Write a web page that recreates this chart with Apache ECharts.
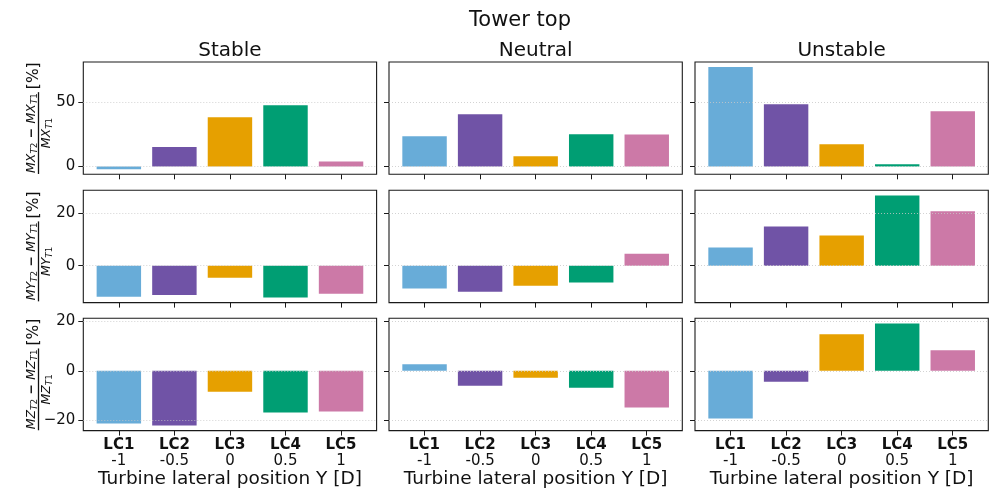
<!DOCTYPE html>
<html>
<head>
<meta charset="utf-8">
<script src="https://cdn.jsdelivr.net/npm/echarts@6/dist/echarts.min.js"></script>
<style>
  html, body { margin: 0; padding: 0; background: #ffffff; }
  #chart { width: 992px; height: 493px; }
</style>
</head>
<body>
<div id="chart"></div>
<script>
// Load cases and their lateral turbine positions
const categories = ['LC1', 'LC2', 'LC3', 'LC4', 'LC5'];
const positions = ['-1', '-0.5', '0', '0.5', '1'];
const conditions = ['Stable', 'Neutral', 'Unstable'];

// Relative change of tower-top moments, T2 vs T1 [%]
const mxStable   = [-2.2, 15.2, 38.5, 47.9, 3.9];
const mxNeutral  = [23.5, 40.8, 7.9, 25.1, 25.0];
const mxUnstable = [77.7, 48.7, 17.3, 1.6, 43.2];

const myStable   = [-11.9, -11.2, -4.6, -12.2, -10.8];
const myNeutral  = [-8.8, -10.0, -7.7, -6.5, 4.6];
const myUnstable = [6.9, 15.0, 11.5, 26.9, 20.8];

const mzStable   = [-21.2, -22.0, -8.4, -16.8, -16.4];
const mzNeutral  = [2.7, -6.0, -2.8, -6.8, -14.8];
const mzUnstable = [-19.2, -4.4, 14.7, 19.1, 8.3];

// y tick values per row
const yTicksMX = [0, 50];
const yTicksMY = [0, 20];
const yTicksMZ = [-20, 0, 20];

const barColors = ['#68acd8', '#7053a6', '#e6a000', '#009e73', '#cc79a7'];

const rows = [
  { values: [mxStable, mxNeutral, mxUnstable], ticks: yTicksMX, sym: 'MX' },
  { values: [myStable, myNeutral, myUnstable], ticks: yTicksMY, sym: 'MY' },
  { values: [mzStable, mzNeutral, mzUnstable], ticks: yTicksMZ, sym: 'MZ' }
];

// Panel layout
const panelW = 293.3, panelH = 112.3;
const lefts = [83.3, 389, 695];
const tops = [62, 190.3, 318.3];
const textColor = '#111111';
const FAM = '"DejaVu Sans", sans-serif';

// Bars are 0.8 wide in category units; axis padded by 5 % of the data extent
const halfBar = 0.4;
const xExtent = [-halfBar, categories.length - 1 + halfBar];
const xPad = 0.05 * (xExtent[1] - xExtent[0]);
const xMin = xExtent[0] - xPad, xMax = xExtent[1] + xPad;
const barPx = 2 * halfBar * panelW / (xMax - xMin);
const catIdx = categories.map((_, i) => i);

const grids = [], xAxes = [], yAxes = [], series = [];

rows.forEach((row, r) => {
  const all = [0].concat(...row.values);
  const lo = Math.min(...all), hi = Math.max(...all);
  const pad = 0.05 * (hi - lo);
  const yMin = lo - pad, yMax = hi + pad;

  row.values.forEach((vals, c) => {
    const idx = grids.length;
    grids.push({
      left: lefts[c], top: tops[r], width: panelW, height: panelH,
      show: true, borderColor: '#1a1a1a', borderWidth: 1.1,
      backgroundColor: 'transparent'
    });
    xAxes.push({
      gridIndex: idx, type: 'value', min: xMin, max: xMax,
      axisLine: { show: false, onZero: false },
      splitLine: { show: false },
      axisTick: { show: true, customValues: catIdx, length: 5, lineStyle: { color: '#1a1a1a', width: 1 } },
      axisLabel: {
        show: r === 2, customValues: catIdx, margin: 7,
        formatter: v => '{b|' + categories[Math.round(v)] + '}\n{n|' + positions[Math.round(v)] + '}',
        rich: {
          b: { fontFamily: FAM, fontWeight: 'bold', fontSize: 15, lineHeight: 16, color: textColor },
          n: { fontFamily: FAM, fontSize: 15, lineHeight: 16, color: textColor }
        }
      },
      name: r === 2 ? 'Turbine lateral position Y [D]' : '',
      nameLocation: 'middle', nameGap: 36,
      nameTextStyle: { fontFamily: FAM, fontSize: 18.5, color: textColor }
    });
    yAxes.push({
      gridIndex: idx, type: 'value', min: yMin, max: yMax,
      axisLine: { show: false, onZero: false },
      splitLine: { show: false },
      axisTick: { show: true, customValues: row.ticks, length: 5, lineStyle: { color: '#1a1a1a', width: 1 } },
      axisLabel: {
        show: c === 0, customValues: row.ticks, margin: 8,
        fontFamily: FAM, fontSize: 15, color: textColor,
        formatter: v => String(v).replace('-', '\u2212')
      }
    });
    series.push({
      type: 'bar', xAxisIndex: idx, yAxisIndex: idx,
      barWidth: barPx,
      data: vals.map((v, j) => ({ value: [j, v], itemStyle: { color: barColors[j] } })),
      markLine: {
        silent: true, symbol: 'none', animation: false,
        label: { show: false },
        lineStyle: { type: [1, 2], color: 'rgba(200,200,200,0.8)', width: 1 },
        data: row.ticks.map(t => ({ yAxis: t }))
      }
    });
  });
});

// Text measuring for the rotated fraction labels
const mctx = document.createElement('canvas').getContext('2d');
function measure(txt, size, style, weight) {
  mctx.font = (style || 'normal') + ' ' + (weight || 'normal') + ' ' + size + 'px "DejaVu Sans"';
  return mctx.measureText(txt).width;
}

// Lays out a run of tokens: [text, size, fontStyle, yOffset, fontWeight]
function layoutRun(tokens, x0) {
  let x = x0;
  const items = [];
  tokens.forEach(([t, size, st, dy, w]) => {
    items.push({
      type: 'text', x: x, y: dy,
      style: { text: t, fontFamily: 'DejaVu Sans', fontSize: size, fontStyle: st, fontWeight: w || 'normal',
        fill: textColor, align: 'left', verticalAlign: 'middle' }
    });
    x += measure(t, size, st, w);
  });
  return { items, width: x - x0 };
}
function runWidth(tokens) {
  return tokens.reduce((s, [t, size, st, , w]) => s + measure(t, size, st, w), 0);
}

function fractionLabel(sym, cy) {
  const big = 12.5, sub = 8.8;
  const numY = -7, numSubY = -3.7, denY = 8.2, denSubY = 11.5;
  const num = [
    [sym, big, 'italic', numY], ['T', sub, 'italic', numSubY], ['2', sub, 'normal', numSubY],
    [' \u2212 ', big, 'normal', numY, 'bold'],
    [sym, big, 'italic', numY], ['T', sub, 'italic', numSubY], ['1', sub, 'normal', numSubY]
  ];
  const den = [
    [sym, big, 'italic', denY], ['T', sub, 'italic', denSubY], ['1', sub, 'normal', denSubY]
  ];
  const pct = [['[%]', 15.5, 'normal', -4.5]];
  const numW = runWidth(num), denW = runWidth(den), pctW = runWidth(pct);
  const fracW = Math.max(numW, denW) + 2;
  const gap = 3;
  const total = fracW + gap + pctW;
  const x0 = -total / 2;
  const n = layoutRun(num, x0 + (fracW - numW) / 2);
  const d = layoutRun(den, x0 + (fracW - denW) / 2);
  const p = layoutRun(pct, x0 + fracW + gap);
  return {
    type: 'group', x: 38.5, y: cy, rotation: Math.PI / 2,
    children: [
      ...n.items, ...d.items, ...p.items,
      { type: 'line', shape: { x1: x0, y1: 0, x2: x0 + fracW, y2: 0 }, style: { stroke: textColor, lineWidth: 1.3 } }
    ]
  };
}

const graphics = [
  { type: 'text', x: 520, y: 20.5, style: { text: 'Tower top', fontFamily: 'DejaVu Sans', fontSize: 21, fill: textColor, align: 'center', verticalAlign: 'middle' } }
];
conditions.forEach((name, c) => {
  graphics.push({ type: 'text', x: lefts[c] + panelW / 2, y: 50.5,
    style: { text: name, fontFamily: 'DejaVu Sans', fontSize: 20, fill: textColor, align: 'center', verticalAlign: 'middle' } });
});
rows.forEach((row, r) => graphics.push(fractionLabel(row.sym, tops[r] + panelH / 2)));

const chart = echarts.init(document.getElementById('chart'), null, { renderer: 'canvas' });
chart.setOption({
  animation: false,
  backgroundColor: '#ffffff',
  grid: grids,
  xAxis: xAxes,
  yAxis: yAxes,
  series: series,
  graphic: graphics
});
</script>
</body>
</html>
